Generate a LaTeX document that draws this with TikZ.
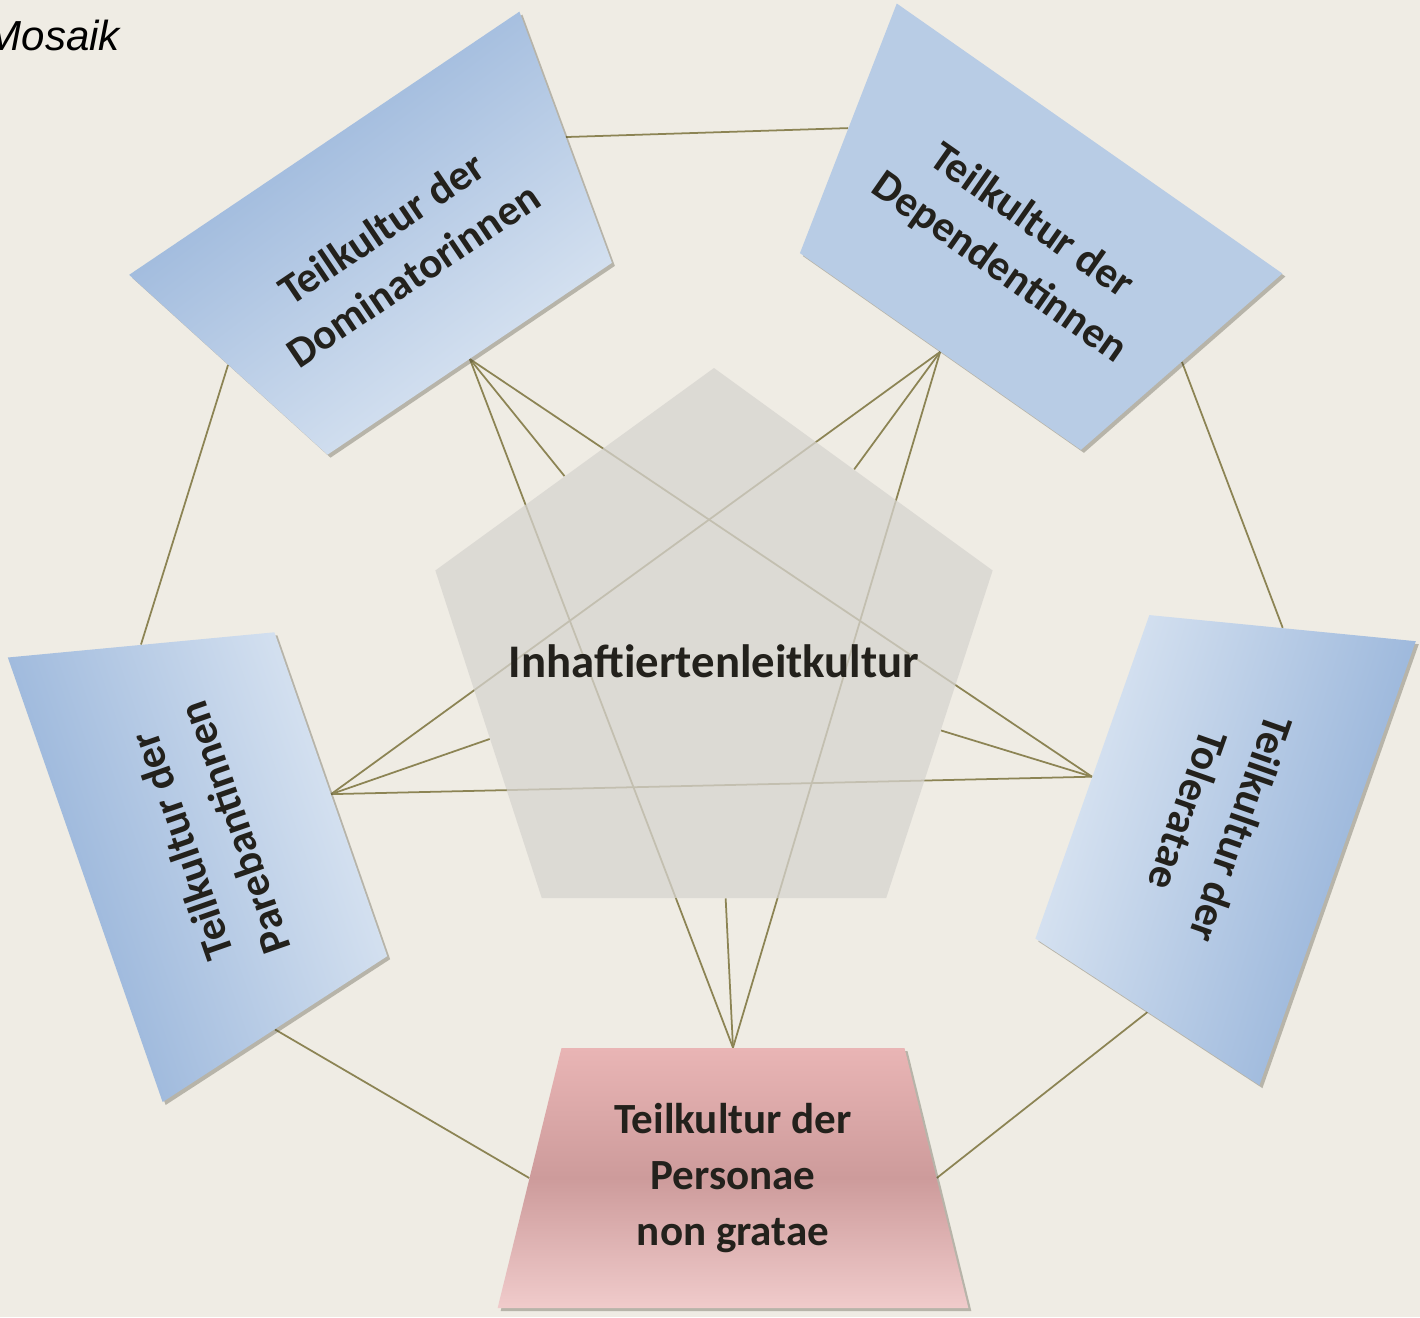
\documentclass[tikz,border=0pt]{standalone}
\usepackage{fontspec}
\usepackage{graphicx}
\setmainfont{Carlito}
\newfontfamily\titlefont{Liberation Sans}
\definecolor{paper}{RGB}{239,236,228}
\definecolor{linkolive}{RGB}{140,132,84}
\definecolor{bluedeep}{RGB}{143,174,215}
\definecolor{bluepale}{RGB}{221,231,243}
\definecolor{bluemid}{RGB}{184,204,229}
\definecolor{rosetop}{RGB}{233,181,181}
\definecolor{rosemid}{RGB}{205,155,155}
\definecolor{rosebot}{RGB}{240,203,203}
\definecolor{coregray}{RGB}{214,212,207}
\definecolor{ink}{RGB}{35,33,28}
\usetikzlibrary{shapes.geometric, shadows, backgrounds}
% body of a box: narrow side 6.86cm, height 5.2cm
\newcommand{\boxtext}[1]{\parbox[c][5.2cm][c]{6.86cm}{\centering #1}}
% text of a box whose narrow side points away from the reader
\newcommand{\flipped}[1]{\rotatebox[origin=c]{180}{\boxtext{#1}}}

\begin{document}
\begin{tikzpicture}[
  subbox/.style={trapezium, trapezium left angle=76.2, trapezium right angle=76.2,
    inner sep=0pt, text=ink,
    font=\fontsize{24.5pt}{32pt}\selectfont\bfseries,
    drop shadow={shadow xshift=.06cm, shadow yshift=-.06cm, opacity=.3, fill=black!60!linkolive}},
  bluebox/.style={top color=bluedeep, bottom color=bluepale, shading angle=#1},
  flatbox/.style={fill=bluemid},
  rosebox/.style={top color=rosetop, bottom color=rosebot, middle color=rosemid},
  core/.style={regular polygon, regular polygon sides=5, minimum size=11.72cm,
    inner sep=0pt, fill=coregray, fill opacity=.75, text opacity=1, text=ink,
    font=\fontsize{26.6pt}{30pt}\selectfont\bfseries},
  link/.style={draw=linkolive, line width=1pt},
]
  \useasboundingbox (-14.28,-13.12) rectangle (14.12,13.22);
  \begin{pgfonlayer}{background}
    \fill[paper] (-14.28,-13.12) rectangle (14.12,13.22);
  \end{pgfonlayer}

  \node[anchor=east, font=\titlefont\itshape\fontsize{23.9pt}{28pt}\selectfont] (title) at (-11.76,12.52) {Mosaik};

  \node[core] (core) at (0,0) {\makebox[0pt]{Inhaftiertenleitkultur}};
  \node[subbox, bluebox=37, rotate=214] (dom) at (-6.34,8.20) {\flipped{Teilkultur der\\Dominatorinnen}};
  \node[subbox, flatbox, rotate=145] (dep) at (6.02,8.32) {\flipped{Teilkultur der\\Dependentinnen}};
  \node[subbox, bluebox=-107, rotate=70.6] (tol) at (10.02,-3.18) {\flipped{Teilkultur der\\Toleratae}};
  \node[subbox, rosebox] (per) at (0.38,-10.34) {\boxtext{Teilkultur der\\Personae\\non gratae}};
  \node[subbox, bluebox=109, rotate=-70.8] (par) at (-10.12,-3.52) {\flipped{Teilkultur der\\Parebantinnen}};

  \begin{pgfonlayer}{background}
    % outer ring
    \draw[link] (dom.left side) -- (dep.right side);
    \draw[link] (dep.left side) -- (tol.right side);
    \draw[link] (tol.left side) -- (per.right side);
    \draw[link] (per.left side) -- (par.right side);
    \draw[link] (par.left side) -- (dom.right side);
    % star
    \draw[link] (dom.top side) -- (per.top side);
    \draw[link] (dom.top side) -- (tol.top side);
    \draw[link] (dep.top side) -- (per.top side);
    \draw[link] (dep.top side) -- (par.top side);
    \draw[link] (par.top side) -- (tol.top side);
    % spokes to the core
    \draw[link] (dom.top side) -- (core);
    \draw[link] (dep.top side) -- (core);
    \draw[link] (tol.top side) -- (core);
    \draw[link] (par.top side) -- (core);
    \draw[link] (per.top side) -- (core);
  \end{pgfonlayer}
\end{tikzpicture}
\end{document}
